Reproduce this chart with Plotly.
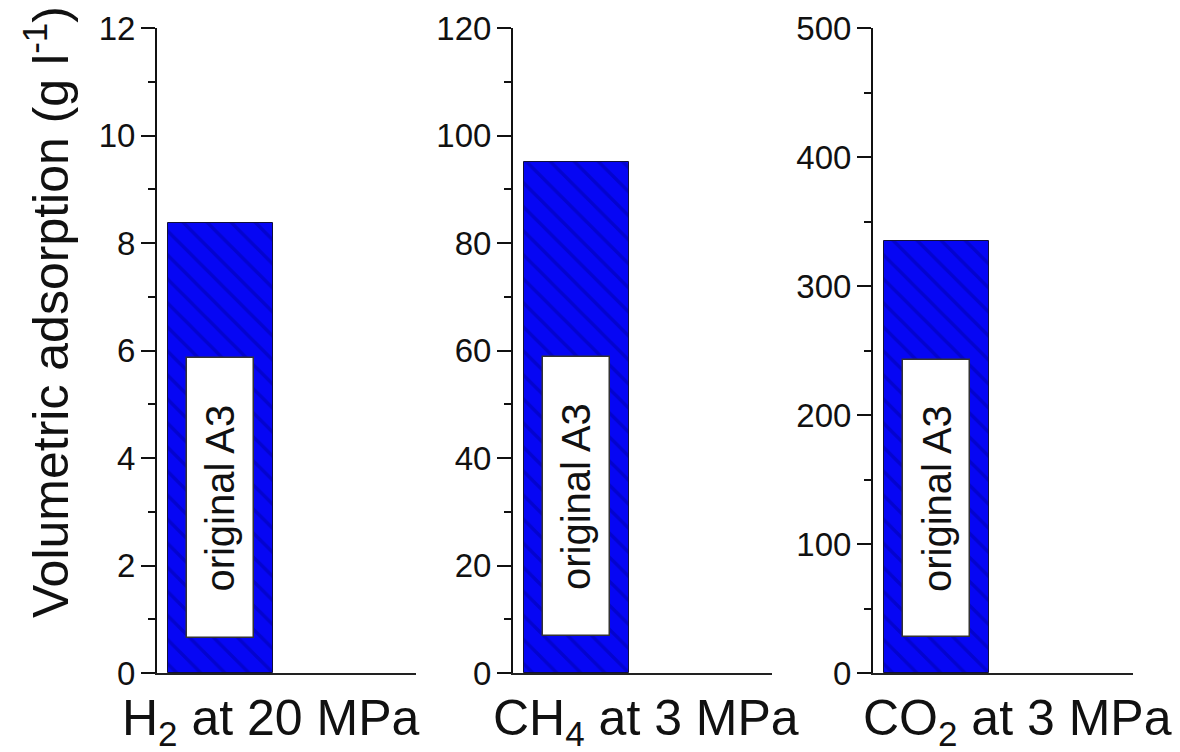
import plotly.graph_objects as go

# ---------------- data ----------------
categories = ["H<sub>2</sub> at 20 MPa", "CH<sub>4</sub> at 3 MPa", "CO<sub>2</sub> at 3 MPa"]
total_values = [8.37, 95.0, 335.0]          # full (hatched blue) bars
box_low = [0.65, 6.9, 28.0]                  # white "original A3" box bottom
box_high = [5.86, 58.8, 243.0]               # white "original A3" box top
box_label = "original A3"
y_max = [12, 120, 500]
y_dtick = [2, 20, 100]
y_title = "Volumetric adsorption (g l<sup>-1</sup>)"

# ---------------- layout helpers ----------------
W, H = 1180, 752
x_domains = [(157 / W, 416 / W), (513 / W, 772 / W), (873 / W, 1133 / W)]
y_domain = (1 - 673 / H, 1 - 28 / H)
label_shift = [-16, 3, 14]

FONT = "Liberation Sans, Arial, sans-serif"
BLUE = "#0606f4"

fig = go.Figure()
layout = dict(
    width=W, height=H,
    margin=dict(l=0, r=0, t=0, b=0, autoexpand=False),
    paper_bgcolor="white", plot_bgcolor="white",
    showlegend=False,
    font=dict(family=FONT, color="#111111"),
    annotations=[],
    bargap=0, barmode="overlay",
)

for i in range(3):
    xa = "x" if i == 0 else f"x{i+1}"
    ya = "y" if i == 0 else f"y{i+1}"
    # hatched full bar
    fig.add_trace(go.Bar(
        x=[0], y=[total_values[i]], width=0.8,
        xaxis=xa, yaxis=ya,
        marker=dict(color=BLUE,
                    line=dict(color="#10103a", width=1),
                    pattern=dict(shape="\\", fgcolor="#0000a8", size=17, solidity=0.2)),
        hoverinfo="skip",
    ))
    # white label box
    fig.add_trace(go.Bar(
        x=[0], y=[box_high[i] - box_low[i]], base=[box_low[i]], width=0.51,
        xaxis=xa, yaxis=ya,
        marker=dict(color="white", line=dict(color="#333333", width=1.5)),
        hoverinfo="skip",
    ))
    xk = "xaxis" if i == 0 else f"xaxis{i+1}"
    yk = "yaxis" if i == 0 else f"yaxis{i+1}"
    layout[xk] = dict(
        domain=list(x_domains[i]), anchor=ya, range=[-0.484, 1.489],
        showline=True, linecolor="#222222", linewidth=2,
        showticklabels=False, ticks="", showgrid=False, zeroline=False,
        automargin=False,
    )
    layout[yk] = dict(
        domain=list(y_domain), anchor=xa, range=[0, y_max[i]],
        dtick=y_dtick[i], tick0=0,
        showline=True, linecolor="#111111", linewidth=2,
        ticks="outside", ticklen=14, tickwidth=2, tickcolor="#111111",
        minor=dict(ticks="outside", ticklen=7, tickwidth=2, tickcolor="#111111",
                   dtick=y_dtick[i] / 2),
        tickfont=dict(family=FONT, size=33, color="#111111"),
        ticklabelstandoff=-1,
        showgrid=False, zeroline=False, automargin=False,
    )
    # rotated inner label
    layout["annotations"].append(dict(
        text=box_label, xref=xa, yref=ya, x=0,
        y=(box_low[i] + box_high[i]) / 2, textangle=-90, showarrow=False,
        font=dict(family=FONT, size=40, color="#111111"),
        xanchor="center", yanchor="middle",
    ))
    # category label under each panel
    layout["annotations"].append(dict(
        text=categories[i], xref=f"{xa} domain", yref="paper",
        x=0.5, y=1 - 688 / H, xshift=label_shift[i], showarrow=False,
        font=dict(family=FONT, size=50, color="#111111"),
        xanchor="center", yanchor="top",
    ))

layout["annotations"].append(dict(
    text=y_title, xref="paper", yref="paper", x=47 / W, y=1 - 312 / H,
    textangle=-90, showarrow=False,
    font=dict(family=FONT, size=50, color="#111111"),
    xanchor="center", yanchor="middle",
))

fig.update_layout(**layout)
fig.write_html("out.html")
